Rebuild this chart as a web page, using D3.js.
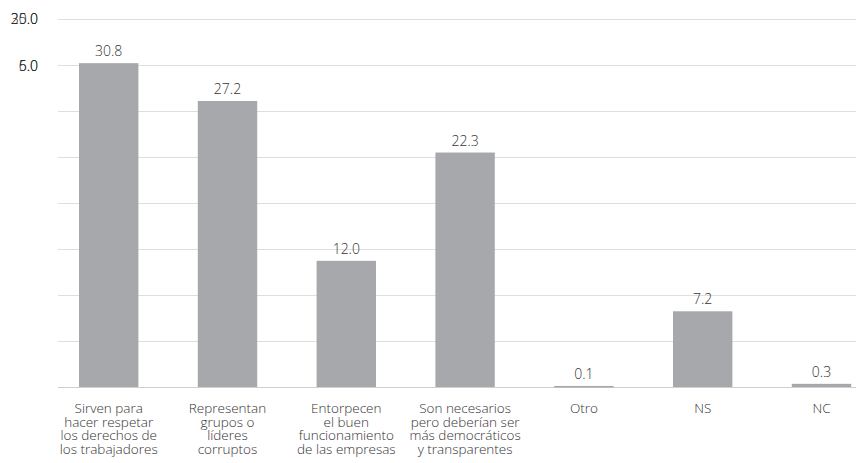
<!DOCTYPE html>
<html><head><meta charset="utf-8">
<script src="https://cdn.jsdelivr.net/npm/d3@7"></script>
<style>body{margin:0;background:#fff;} text{font-family:"Open Sans","Noto Sans",sans-serif;font-weight:300;}</style>
</head><body>
<svg id="c" width="856" height="463"></svg>
<script>
const categories = [
  ["Sirven para","hacer respetar","los derechos de","los trabajadores"],
  ["Representan","grupos o","líderes","corruptos"],
  ["Entorpecen","el buen","funcionamiento","de las empresas"],
  ["Son necesarios","pero deberían ser","más democráticos","y transparentes"],
  ["Otro"],
  ["NS"],
  ["NC"]
];
const values = [30.8, 27.2, 12.0, 22.3, 0.1, 7.2, 0.3];
const gridValues = [0, 4.375, 8.75, 13.125, 17.5, 21.875, 26.25, 30.625, 35];
const tickLabelsTop = ["35.0", "20.0"];
const tickLabelsSecond = ["6.0", "5.0"];

const svg = d3.select("#c");
const y = d3.scaleLinear().domain([0, 35]).range([387, 19]);
const x = d3.scaleBand().domain(d3.range(values.length)).range([49.3, 880.9]).paddingInner(0.5).paddingOuter(0.25);

svg.selectAll("line.grid").data(gridValues).enter().append("line")
  .attr("x1", 58).attr("x2", 856)
  .attr("y1", d => Math.round(y(d)) + 0.5).attr("y2", d => Math.round(y(d)) + 0.5)
  .attr("stroke", d => d === 0 ? "#cfcfcf" : "#dedede").attr("stroke-width", 1);

svg.selectAll("text.yt").data(tickLabelsTop).enter().append("text")
  .attr("x", 38).attr("y", y(35)).attr("dy", "0.35em").attr("text-anchor", "end")
  .attr("font-size", 14).attr("fill", "#222").text(d => d);
svg.selectAll("text.yt2").data(tickLabelsSecond).enter().append("text")
  .attr("x", 38).attr("y", y(30.625) + 1).attr("dy", "0.35em").attr("text-anchor", "end")
  .attr("font-size", 14).attr("fill", "#222").text(d => d);

svg.selectAll("rect.bar").data(values).enter().append("rect")
  .attr("x", (d, i) => x(i)).attr("width", x.bandwidth())
  .attr("y", d => y(d)).attr("height", d => Math.max(1.5, y(0) - y(d)))
  .attr("fill", "#a7a8ab");

svg.selectAll("text.val").data(values).enter().append("text")
  .attr("x", (d, i) => x(i) + x.bandwidth() / 2).attr("y", d => y(d) - 7)
  .attr("text-anchor", "middle").attr("font-size", 14).attr("fill", "#333")
  .text(d => d.toFixed(1));

categories.forEach((lines, i) => {
  const t = svg.append("text").attr("text-anchor", "middle").attr("font-size", 13.5).attr("fill", "#333");
  lines.forEach((ln, j) => {
    t.append("tspan").attr("x", x(i) + x.bandwidth() / 2).attr("y", 413 + j * 13.7).text(ln);
  });
});
</script>
</body></html>
